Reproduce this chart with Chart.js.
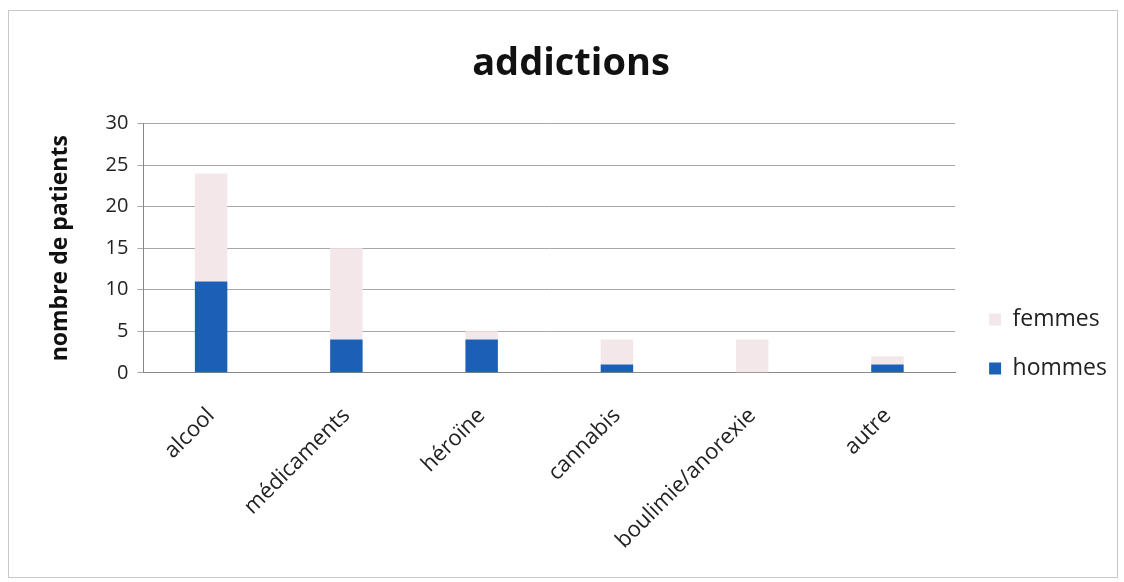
<!DOCTYPE html>
<html lang="fr">
<head>
  <meta charset="UTF-8" />
  <title>addictions</title>
  <script src="https://cdn.jsdelivr.net/npm/chart.js"></script>
  <style>
    body {
      margin: 0;
      background: #fff;
      font-family: "Open Sans", sans-serif;
    }
    #box {
      position: absolute;
      left: 8px;
      top: 10px;
      width: 1110px;
      height: 568px;
      border: 1px solid #c8c8c8;
      box-sizing: border-box;
    }
  </style>
</head>
<body>
  <div id="box"><canvas id="chart"></canvas></div>

  <script>
    const categories = ['alcool', 'médicaments', 'héroïne', 'cannabis', 'boulimie/anorexie', 'autre'];
    const hommes = [11, 4, 4, 1, 0, 1];
    const femmes = [13, 11, 1, 3, 4, 1];
    const yTicks = [0, 5, 10, 15, 20, 25, 30];

    const data = {
      labels: categories,
      datasets: [
        {
          label: 'hommes',
          data: hommes,
          backgroundColor: '#1b5fb6',
          barPercentage: 0.24,
          categoryPercentage: 1
        },
        {
          label: 'femmes',
          data: femmes,
          backgroundColor: '#f3e7e9',
          barPercentage: 0.24,
          categoryPercentage: 1
        }
      ]
    };

    const config = {
      type: 'bar',
      data: data,
      options: {
        responsive: true,
        maintainAspectRatio: false,
        animation: false,
        layout: {
          padding: { left: 16, right: 0, top: 16, bottom: 15 }
        },
        plugins: {
          title: {
            display: true,
            text: 'addictions',
            color: '#111',
            font: { family: 'Open Sans', size: 38, weight: 'bold' },
            padding: { top: 14, bottom: 37 }
          },
          legend: {
            position: 'right',
            align: 'start',
            reverse: true,
            title: {
              display: true,
              text: '',
              font: { size: 10 },
              padding: { top: 243, bottom: 0 }
            },
            labels: {
              color: '#222',
              font: { family: 'Open Sans', size: 23 },
              boxWidth: 12,
              boxHeight: 12,
              padding: 26
            }
          },
          tooltip: { enabled: false }
        },
        scales: {
          x: {
            stacked: true,
            grid: { display: false, drawTicks: false },
            border: { color: '#888' },
            ticks: {
              color: '#222',
              font: { family: 'Open Sans', size: 22 },
              minRotation: 45,
              maxRotation: 45,
              padding: 30
            },
            afterFit: axis => {
              axis.height -= 22;
            }
          },
          y: {
            stacked: true,
            min: 0,
            max: 30,
            afterBuildTicks: axis => {
              axis.ticks = yTicks.map(v => ({ value: v }));
            },
            grid: { color: '#a8a8a8', tickLength: 6 },
            border: { color: '#888' },
            ticks: {
              color: '#222',
              font: { family: 'Open Sans', size: 20 },
              padding: 9
            },
            title: {
              display: true,
              text: 'nombre de patients',
              color: '#111',
              font: { family: 'Open Sans', size: 23, weight: 'bold' },
              padding: { top: 22, bottom: 22 }
            }
          },
          gap: {
            position: 'right',
            display: true,
            grid: { display: false },
            border: { display: false },
            ticks: { display: false },
            afterFit: axis => {
              axis.width = 8;
            }
          }
        }
      }
    };

    window.addictionsChart = new Chart(document.getElementById('chart'), config);
  </script>
</body>
</html>
